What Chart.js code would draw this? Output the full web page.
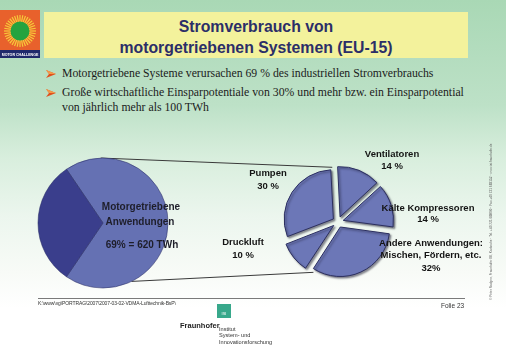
<!DOCTYPE html>
<html>
<head>
<meta charset="utf-8">
<script src="https://cdn.jsdelivr.net/npm/chart.js@4.4.1/dist/chart.umd.min.js"></script>
<style>
body { margin: 0; }
#slide {
    position: relative; width: 506px; height: 350px; overflow: hidden;
    background: linear-gradient(to bottom, #a9d8b5 0%, #bde1c7 30%, #d8eedd 45%, #ecf6ee 62%, #f8fbf7 78%, #ffffff 88%);
    font-family: "Liberation Sans", Arial, sans-serif;
}
.abs { position: absolute; }
#titlebox { left: 44px; top: 12px; width: 424px; height: 46px; background: #f3f29c; }
#title {
    left: 44px; top: 12px; width: 424px; padding-top: 4px; text-align: center;
    font-weight: bold; font-size: 15.8px; line-height: 21px; color: #2b2e68;
}
.bullet { left: 62px; font-family: "Liberation Serif", "Times New Roman", serif; font-size: 11.75px; line-height: 15px; color: #1b1b1b; white-space: nowrap; }
.arrow { left: 46px; }
#rule { left: 38px; top: 298px; width: 427px; height: 0; border-top: 1px solid #7a7a7a; }
#path { left: 38px; top: 300px; font-size: 5px; color: #333; letter-spacing: -0.1px; }
#folie { left: 441px; top: 302px; font-size: 6.5px; color: #333; }
#isi { left: 217px; top: 304px; width: 14px; height: 14px; background: #38a88b; color: #fff; font-size: 4px; text-align: center; line-height: 20px; }
#fhg { left: 180px; top: 321px; font-size: 7.5px; font-weight: bold; color: #222; }
#inst { left: 219px; top: 326px; font-size: 5.6px; line-height: 6.3px; color: #333; }
#side { left: 489px; top: 300px; transform-origin: 0 0; transform: rotate(-90deg); font-size: 3.2px; color: #555; white-space: nowrap; }
canvas { position: absolute; }
</style>
</head>
<body>
<div id="slide">
    <canvas id="logo" width="40" height="48" style="left:0;top:10px"></canvas>
    <div id="titlebox" class="abs"></div>
    <div id="title" class="abs">Stromverbrauch von<br>motorgetriebenen Systemen (EU-15)</div>

    <svg class="abs arrow" style="top:69px" width="10" height="10"><polygon points="0,1 10,5 0,9 3,5" fill="#e0501c"/><polygon points="0,1 10,5 3,5" fill="#f39a4a"/></svg>
    <div class="abs bullet" style="top:66px">Motorgetriebene Systeme verursachen 69 % des industriellen Stromverbrauchs</div>
    <svg class="abs arrow" style="top:88px" width="10" height="10"><polygon points="0,1 10,5 0,9 3,5" fill="#e0501c"/><polygon points="0,1 10,5 3,5" fill="#f39a4a"/></svg>
    <div class="abs bullet" style="top:85px">Große wirtschaftliche Einsparpotentiale von 30% und mehr bzw. ein Einsparpotential<br>von jährlich mehr als 100 TWh</div>

    <canvas id="links" width="506" height="350" style="left:0;top:0"></canvas>
    <canvas id="gesamt" width="170" height="146" style="left:30px;top:150px"></canvas>
    <canvas id="motoren" width="265" height="150" style="left:220px;top:140px"></canvas>

    <div id="rule" class="abs"></div>
    <div id="path" class="abs">K:\www\vg\PORTRAG\2007\2007-03-02-VDMA-Lufttechnik-BsP\</div>
    <div id="folie" class="abs">Folie 23</div>
    <div id="isi" class="abs">ISI</div>
    <div id="fhg" class="abs">Fraunhofer</div>
    <div id="inst" class="abs">Institut<br>System- und<br>Innovationsforschung</div>
    <div id="side" class="abs">© Peter Radgen, Fraunhofer ISI, Karlsruhe · Tel. +49 721 6809 0 · Fax +49 721 689152 · www.isi.fraunhofer.de</div>
</div>

<script>
// left pie: share of motor driven systems in industrial electricity use
const gesamtLabels = ["Motorgetriebene Anwendungen", "Sonstige"];
const gesamtWerte = [69, 31];
const motorTWh = 620;

// right pie: breakdown of motor driven systems
const motorLabels = [["Ventilatoren"], ["Kälte Kompressoren"], ["Andere Anwendungen:", "Mischen, Fördern, etc."], ["Druckluft"], ["Pumpen"]];
const motorWerte = [14, 14, 32, 10, 30];

// label placement relative to the pie centre
const labelOffsets = [[54, -68], [90, -14], [93, 21], [-95, 20], [-70, -49]];
const labelGaps = [12, 11, 12.5, 13, 13];

const FONT = '"Liberation Sans", Arial, sans-serif';

// Motor Challenge logo
(function () {
    const c = document.getElementById("logo").getContext("2d");
    c.fillStyle = "#e8612c";
    c.fillRect(0, 0, 40, 40);
    c.fillStyle = "#1f2a6b";
    c.fillRect(0, 40, 40, 8);
    c.strokeStyle = "#f7c93a";
    c.lineWidth = 1.2;
    for (let a = 0; a < 36; a++) {
        const t = a * Math.PI / 18;
        c.beginPath();
        c.moveTo(20 + Math.cos(t) * 9, 21 + Math.sin(t) * 9);
        c.lineTo(20 + Math.cos(t) * 16, 21 + Math.sin(t) * 16);
        c.stroke();
    }
    c.fillStyle = "#25a33f";
    c.beginPath();
    c.arc(20, 21, 9.5, 0, Math.PI * 2);
    c.fill();
    c.fillStyle = "#fff";
    c.font = "bold 3.6px " + FONT;
    c.textAlign = "center";
    c.fillText("MOTOR CHALLENGE", 20, 45.5);
})();

const gesamtText = {
    id: "gesamtText",
    afterDraw(chart) {
        const arc = chart.getDatasetMeta(0).data[0];
        const ctx = chart.ctx;
        ctx.save();
        ctx.font = "bold 10px " + FONT;
        ctx.fillStyle = "#1e1e2a";
        ctx.textAlign = "center";
        ctx.textBaseline = "middle";
        ctx.fillText("Motorgetriebene", arc.x + 38, arc.y - 16);
        ctx.fillText("Anwendungen", arc.x + 37, arc.y - 1);
        ctx.fillText(gesamtWerte[0] + "% = " + motorTWh + " TWh", arc.x + 39, arc.y + 22);
        ctx.restore();
    }
};

const gesamt = new Chart(document.getElementById("gesamt"), {
    type: "pie",
    data: {
        labels: gesamtLabels,
        datasets: [{
            data: gesamtWerte,
            backgroundColor: ["#6571b3", "#3a3e8c"],
            borderColor: "rgba(40, 44, 100, 0.55)",
            borderWidth: 1
        }]
    },
    options: {
        responsive: false,
        animation: false,
        rotation: -34.2,
        radius: 65,
        layout: { padding: { right: 24 } },
        plugins: { legend: { display: false }, tooltip: { enabled: false } }
    },
    plugins: [gesamtText]
});

const schatten = {
    id: "schatten",
    beforeDatasetsDraw(chart) {
        const ctx = chart.ctx;
        ctx.save();
        ctx.shadowColor = "rgba(20, 20, 40, 0.5)";
        ctx.shadowBlur = 2;
        ctx.shadowOffsetX = 1.5;
        ctx.shadowOffsetY = 1.5;
    },
    afterDatasetsDraw(chart) {
        chart.ctx.restore();
    }
};

const sliceLabels = {
    id: "sliceLabels",
    afterDraw(chart) {
        const arc = chart.getDatasetMeta(0).data[0];
        const ctx = chart.ctx;
        ctx.save();
        ctx.font = "bold 9.5px " + FONT;
        ctx.fillStyle = "#141414";
        ctx.textAlign = "center";
        ctx.textBaseline = "middle";
        motorLabels.forEach((lines, i) => {
            const pct = motorWerte[i] + (lines.length > 1 ? "%" : " %");
            const [dx, dy] = labelOffsets[i];
            lines.concat([pct]).forEach((t, k) => {
                ctx.fillText(t, arc.x + dx, arc.y + dy + k * labelGaps[i]);
            });
        });
        ctx.restore();
    }
};

const motoren = new Chart(document.getElementById("motoren"), {
    type: "pie",
    data: {
        labels: motorLabels,
        datasets: [{
            data: motorWerte,
            backgroundColor: "#6c77b7",
            borderColor: "#2b2e5e",
            borderWidth: 1,
            offset: 22
        }]
    },
    options: {
        responsive: false,
        animation: false,
        rotation: -3,
        radius: 49,
        layout: { padding: { left: 0, right: 29, top: 14, bottom: 0 } },
        plugins: { legend: { display: false }, tooltip: { enabled: false } }
    },
    plugins: [schatten, sliceLabels]
});

// connector lines between the two pies
(function () {
    const l = gesamt.getDatasetMeta(0).data[0];
    const r = motoren.getDatasetMeta(0).data[0];
    const lx = 30 + l.x, ly = 150 + l.y, lr = l.outerRadius;
    const rx = 220 + r.x, ry = 140 + r.y, rr = r.outerRadius + 6;
    const pt = (x, y, rad, deg) => [x + Math.cos(deg * Math.PI / 180) * rad, y + Math.sin(deg * Math.PI / 180) * rad];
    const c = document.getElementById("links").getContext("2d");
    c.strokeStyle = "#3a3a3a";
    c.lineWidth = 1;
    [[pt(lx, ly, lr, -92), pt(rx, ry, rr, -96)], [pt(lx, ly, lr, 64), pt(rx, ry, rr + 1, 116)]].forEach(([a, b]) => {
        c.beginPath();
        c.moveTo(a[0], a[1]);
        c.lineTo(b[0], b[1]);
        c.stroke();
    });
})();
</script>
</body>
</html>
